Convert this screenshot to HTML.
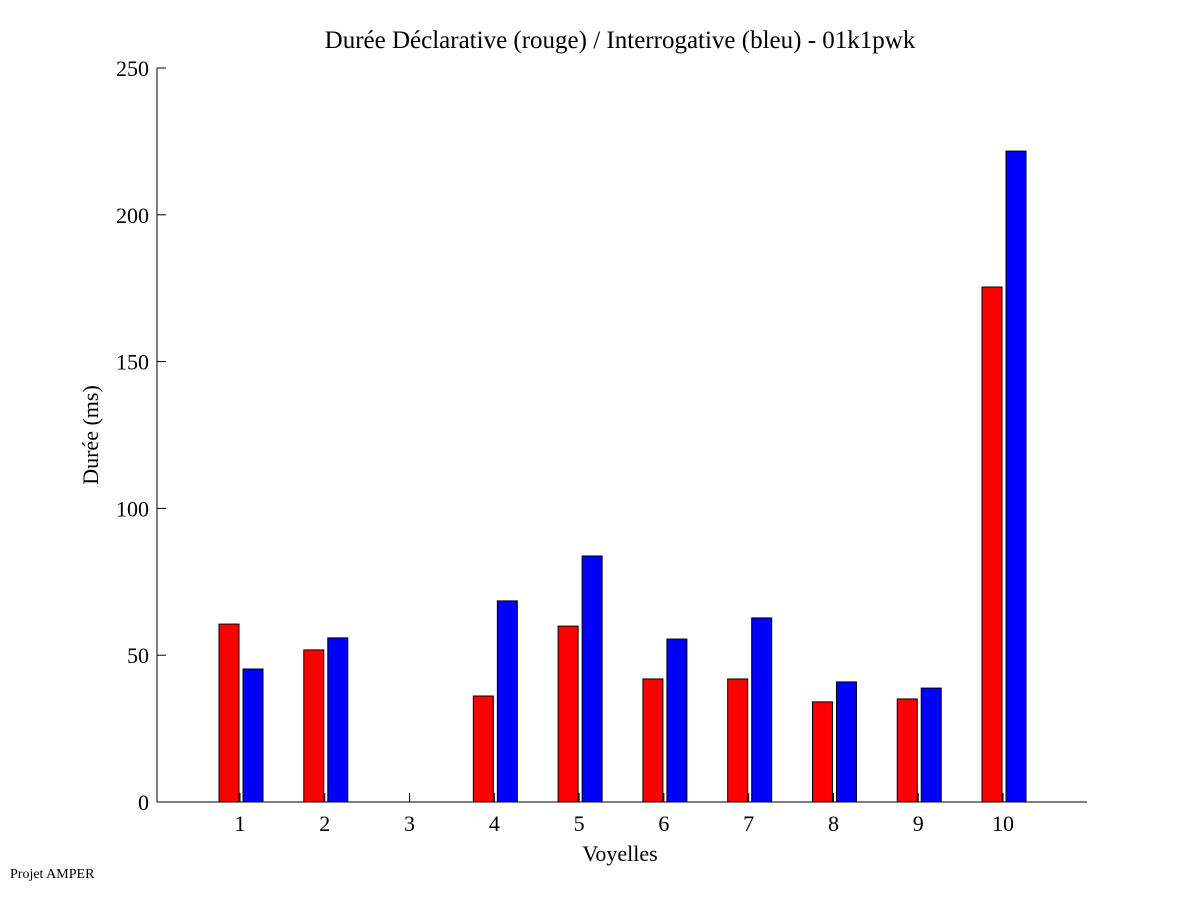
<!DOCTYPE html>
<html><head><meta charset="utf-8"><style>
body{margin:0;background:#fff;}
svg{display:block;font-family:"Liberation Serif",serif;}
</style></head><body>
<svg id="chart" width="1201" height="901" xmlns="http://www.w3.org/2000/svg">
<rect width="1201" height="901" fill="#fff"/>
<text x="620" y="48" font-size="25" text-anchor="middle">Durée Déclarative (rouge) / Interrogative (bleu) - 01k1pwk</text>
<text transform="translate(98,435) rotate(-90)" font-size="22" text-anchor="middle">Durée (ms)</text>
<text x="620" y="861" font-size="22" text-anchor="middle">Voyelles</text>
<text x="10" y="878" font-size="14">Projet AMPER</text>
<g id="axes"></g>
<g id="bars"></g>
</svg>
<script>
const categories = ["1","2","3","4","5","6","7","8","9","10"];
const declarative = [60.6, 51.8, 0, 36.1, 59.9, 41.9, 41.9, 34.1, 35.1, 175.4];
const interrogative = [45.3, 55.9, 0, 68.5, 83.8, 55.5, 62.7, 40.9, 38.8, 221.7];
const yTicks = [0, 50, 100, 150, 200, 250];

const NS = "http://www.w3.org/2000/svg";
const left = 157, right = 1087, y0 = 802, yTop = 68, yMax = 250;
function yPos(v){ return y0 - v / yMax * (y0 - yTop); }
function xPos(i){ return 240 + i * 84.78; }
function mk(tag, attrs, parent){
  const e = document.createElementNS(NS, tag);
  for (const k in attrs) e.setAttribute(k, attrs[k]);
  parent.appendChild(e); return e;
}
const axes = document.getElementById("axes");
const bars = document.getElementById("bars");
let l = mk("line", {x1:left, y1:y0, x2:right, y2:y0, stroke:"#000"}, axes);


l = mk("line", {x1:left, y1:yTop, x2:left, y2:y0, stroke:"#000"}, axes);


yTicks.forEach(v => {
  const y = yPos(v);
  const t = mk("line", {x1:left, y1:y, x2:left+9, y2:y, stroke:"#000"}, axes);
  
  
  const tx = mk("text", {x:left-8, y:y+8, "font-size":22, "text-anchor":"end"}, axes);
  tx.textContent = v;
  
  
});
categories.forEach((c, i) => {
  const x = xPos(i);
  const t = mk("line", {x1:x, y1:y0, x2:x, y2:y0-9, stroke:"#000"}, axes);
  
  
  const tx = mk("text", {x:x, y:831, "font-size":22, "text-anchor":"middle"}, axes);
  tx.textContent = c;
  
  
  if (declarative[i] > 0) {
    const r = mk("rect", {x:x-21, y:yPos(declarative[i]), width:20, height:y0-yPos(declarative[i]), fill:"#ff0000", stroke:"#000", "stroke-width":1}, bars);
    
    
  }
  if (interrogative[i] > 0) {
    const b = mk("rect", {x:x+3, y:yPos(interrogative[i]), width:20, height:y0-yPos(interrogative[i]), fill:"#0000ff", stroke:"#000", "stroke-width":1}, bars);
    
    
  }
});
</script>
</body></html>
